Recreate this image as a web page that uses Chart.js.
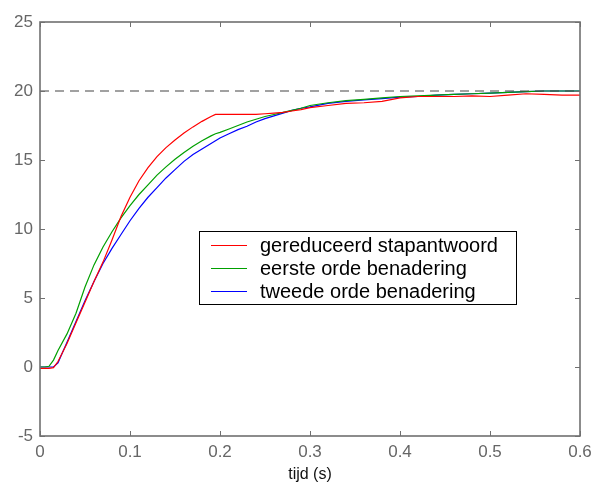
<!DOCTYPE html>
<html>
<head>
<meta charset="utf-8">
<script src="https://cdn.jsdelivr.net/npm/chart.js@4.4.1/dist/chart.umd.min.js"></script>
<style>
  html, body { margin: 0; padding: 0; background: #fff; }
  #wrap { width: 595px; height: 485px; }
</style>
</head>
<body>
<div id="wrap"><canvas id="stapChart" width="595" height="485"></canvas></div>
<script>
// tijdas (s)
const tijd = [
    0, 0.005, 0.01, 0.015, 0.02, 0.03, 0.04, 0.05, 0.06, 0.07, 0.08, 0.09,
    0.10, 0.11, 0.12, 0.13, 0.14, 0.15, 0.16, 0.17, 0.18, 0.19, 0.195, 0.20,
    0.21, 0.22, 0.23, 0.24, 0.25, 0.26, 0.27, 0.28, 0.29, 0.30, 0.32, 0.34,
    0.36, 0.38, 0.40, 0.42, 0.44, 0.46, 0.48, 0.50, 0.52, 0.54, 0.56, 0.58, 0.60
];

const gereduceerd = [
    -0.1, -0.1, -0.1, -0.05, 0.4, 1.7, 3.2, 4.7, 6.2, 7.6, 9.2, 10.9,
    12.3, 13.5, 14.45, 15.25, 15.9, 16.45, 16.95, 17.4, 17.8, 18.15, 18.3, 18.3,
    18.3, 18.3, 18.3, 18.3, 18.35, 18.4, 18.45, 18.55, 18.65, 18.8, 18.95, 19.1,
    19.15, 19.25, 19.5, 19.6, 19.6, 19.6, 19.65, 19.6, 19.7, 19.8, 19.75, 19.7, 19.7
];

const eersteOrde = [
    0, 0, 0.05, 0.5, 1.2, 2.4, 3.9, 5.8, 7.4, 8.7, 9.8, 10.8,
    11.7, 12.5, 13.2, 13.9, 14.5, 15.05, 15.55, 16.0, 16.4, 16.75, 16.9, 17.0,
    17.25, 17.5, 17.75, 17.95, 18.15, 18.3, 18.45, 18.6, 18.75, 18.95, 19.15, 19.3,
    19.4, 19.5, 19.6, 19.65, 19.7, 19.75, 19.8, 19.85, 19.9, 19.95, 20.0, 20.0, 20.0
];

const tweedeOrde = [
    0, 0, 0, 0, 0.3, 1.8, 3.3, 4.8, 6.2, 7.5, 8.6, 9.6,
    10.6, 11.5, 12.3, 13.0, 13.7, 14.3, 14.9, 15.4, 15.8, 16.2, 16.4, 16.6,
    16.9, 17.2, 17.45, 17.75, 18.0, 18.2, 18.4, 18.6, 18.75, 18.85, 19.1, 19.25,
    19.35, 19.45, 19.55, 19.6, 19.7, 19.75, 19.8, 19.85, 19.9, 19.95, 20.0, 20.0, 20.0
];

// eindwaarde (stippellijn)
const eindwaarde = 20;

const xTicks = [0, 0.1, 0.2, 0.3, 0.4, 0.5, 0.6];
const yTicks = [-5, 0, 5, 10, 15, 20, 25];

const reeksen = [
    { label: 'gereduceerd stapantwoord', data: gereduceerd, kleur: '#ff0000' },
    { label: 'eerste orde benadering', data: eersteOrde, kleur: '#00a000' },
    { label: 'tweede orde benadering', data: tweedeOrde, kleur: '#0000ff' }
];

const asKleur = '#707070';
const lettertype = '"Liberation Sans", Arial, sans-serif';

// kader met naar binnen wijzende streepjes
const kaderPlugin = {
    id: 'kader',
    afterDatasetsDraw(chart) {
        const { ctx, chartArea: a, scales } = chart;
        ctx.save();
        ctx.strokeStyle = asKleur;
        ctx.lineWidth = 1.6;
        ctx.strokeRect(a.left, a.top, a.right - a.left, a.bottom - a.top);
        ctx.lineWidth = 1;
        const len = 5;
        ctx.beginPath();
        xTicks.forEach(v => {
            const px = Math.round(scales.x.getPixelForValue(v)) + 0.5;
            ctx.moveTo(px, a.bottom); ctx.lineTo(px, a.bottom - len);
            ctx.moveTo(px, a.top); ctx.lineTo(px, a.top + len);
        });
        yTicks.forEach(v => {
            const py = Math.round(scales.y.getPixelForValue(v)) + 0.5;
            ctx.moveTo(a.left, py); ctx.lineTo(a.left + len, py);
            ctx.moveTo(a.right, py); ctx.lineTo(a.right - len, py);
        });
        ctx.stroke();
        ctx.restore();
    }
};

// legenda in een kader midden in de grafiek
const legendaPlugin = {
    id: 'legenda',
    afterDraw(chart) {
        const { ctx, scales } = chart;
        const x0 = Math.round(scales.x.getPixelForValue(0.177));
        const y0 = Math.round(scales.y.getPixelForValue(9.85));
        const w = 317, h = 73;
        ctx.save();
        ctx.fillStyle = '#fff';
        ctx.fillRect(x0, y0, w, h);
        ctx.strokeStyle = '#000';
        ctx.lineWidth = 1;
        ctx.strokeRect(x0 + 0.5, y0 + 0.5, w, h);
        ctx.font = '20px ' + lettertype;
        ctx.textBaseline = 'middle';
        reeksen.forEach((r, i) => {
            const y = Math.round(y0 + 14 + i * 23) + 0.5;
            ctx.strokeStyle = r.kleur;
            ctx.beginPath();
            ctx.moveTo(x0 + 12, y);
            ctx.lineTo(x0 + 48, y);
            ctx.stroke();
            ctx.fillStyle = '#000';
            ctx.fillText(r.label, x0 + 61, y + 1);
        });
        ctx.restore();
    }
};

const datasets = reeksen.map(r => ({
    label: r.label,
    data: tijd.map((t, i) => ({ x: t, y: r.data[i] })),
    borderColor: r.kleur,
    borderWidth: 1.2,
    pointRadius: 0,
    tension: 0
}));

datasets.unshift({
    label: 'eindwaarde',
    data: [{ x: 0, y: eindwaarde }, { x: 0.6, y: eindwaarde }],
    borderColor: '#444',
    borderWidth: 1.2,
    borderDash: [9, 6],
    pointRadius: 0
});

new Chart(document.getElementById('stapChart'), {
    type: 'line',
    data: { datasets: datasets },
    options: {
        responsive: false,
        animation: false,
        layout: { padding: { top: 22, right: 15, left: 0, bottom: 0 } },
        plugins: {
            legend: { display: false },
            tooltip: { enabled: false }
        },
        scales: {
            x: {
                type: 'linear',
                min: 0,
                max: 0.6,
                afterFit: scale => {
                    scale.height = 49;
                    scale.paddingLeft = 0;
                    scale.paddingRight = 0;
                },
                afterBuildTicks: scale => { scale.ticks = xTicks.map(v => ({ value: v })); },
                grid: { display: false, drawTicks: false },
                border: { display: false },
                ticks: {
                    padding: 6,
                    color: '#666',
                    font: { family: lettertype, size: 17 },
                    callback: v => v === 0 ? '0' : v.toFixed(1)
                },
                title: {
                    display: true,
                    text: 'tijd (s)',
                    color: '#111',
                    font: { family: lettertype, size: 16 },
                    padding: { top: 0, bottom: 1 }
                }
            },
            y: {
                min: -5,
                max: 25,
                afterFit: scale => {
                    scale.width = 40;
                    scale.paddingTop = 0;
                    scale.paddingBottom = 0;
                },
                afterBuildTicks: scale => { scale.ticks = yTicks.map(v => ({ value: v })); },
                grid: { display: false, drawTicks: false },
                border: { display: false },
                ticks: {
                    padding: 7,
                    color: '#666',
                    font: { family: lettertype, size: 17 }
                }
            }
        }
    },
    plugins: [kaderPlugin, legendaPlugin]
});
</script>
</body>
</html>
